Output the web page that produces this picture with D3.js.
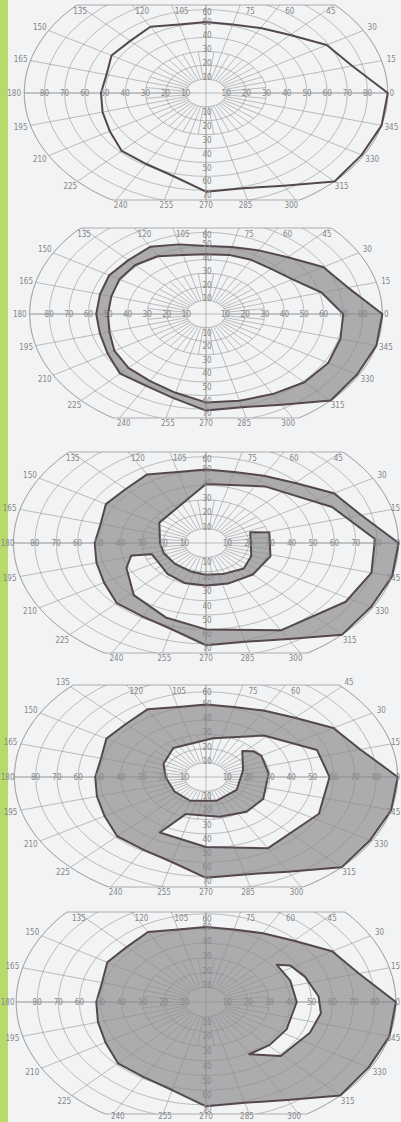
<!DOCTYPE html>
<html>
<head>
<meta charset="utf-8">
<title>Visual field isopters</title>
<script src="https://cdn.jsdelivr.net/npm/d3@7"></script>
<style>
  body { margin: 0; background: #f2f3f5; }
  svg { display: block; }
  text { font-family: "Liberation Sans Narrow", "DejaVu Sans Condensed", sans-serif; font-size: 8px; fill: #868686; }
</style>
</head>
<body>
<svg id="chart" width="401" height="1122"></svg>
<script>
'use strict';

// meridians every 15 degrees, labelled round the rim
const meridians = d3.range(0, 360, 15);
const meridianLabels = meridians.map(String);

// ring labels along the axes
const ringsLeft = [10, 20, 30, 40, 50, 60, 70, 80];
const ringsRight = [10, 20, 30, 40, 50, 60, 70, 80];
const ringsUp = [10, 20, 30, 40, 50, 60];
const ringsDown = [10, 20, 30, 40, 50, 60, 70];

// outer isopter, radius in degrees at each meridian
const outerIsopter = [90, 75, 69, 59, 54, 51, 51, 51, 55, 53, 54, 51,
                      52, 53, 55, 59, 59, 62, 71, 71, 77, 90, 89, 90];
// field 2 reads a little wider on the nasal (left) side
const outerIsopter2 = [90, 75, 69, 59, 54, 51, 50, 53, 57, 56, 57, 56,
                       56, 56, 58, 62, 61, 64, 71, 71, 77, 90, 89, 90];

// field 2: inner edge of the ring band, per meridian
const ringInner = [70, 61, 51, 47, 46, 45, 44, 45, 49, 51, 51, 50,
                   50, 51, 54, 56, 57, 60, 65, 66, 68, 71, 72, 71];

// field 3: white spiral region, [angle, radius]
const spiralHole = [[90, 41], [147, 26], [180, 21.5], [200, 21], [225, 20.5], [250, 21],
  [270, 22], [290, 23], [315, 25], [337, 23], [20, 22], [14, 30.5], [343, 31.5],
  [315, 31], [290, 30], [270, 29.5], [250, 29.5], [230, 28], [212, 26], [197, 26.5],
  [194, 36], [205, 41], [227, 49.5], [250, 55], [270, 60], [300, 70], [328, 77],
  [345, 80], [2, 79], [23, 64], [55, 48]];

// field 4: white spiral region, [angle, radius]
const spiral2Hole = [[47, 40], [83, 27.5], [127, 25.5], [155, 22], [180, 19], [215, 18],
  [246, 18.3], [287, 17.4], [328, 17], [15, 18], [47, 25], [39, 28.7], [30, 30],
  [5, 29.5], [330, 31], [308, 31], [283, 28.7], [250, 27.8], [241, 44.7], [270, 49.3],
  [300, 58], [334, 59], [0, 58], [20, 55.5]];

// field 5: white crescent, [angle, radius]
const crescentHole = [[37, 42], [32, 47], [20, 50], [4, 53.5], [352, 55], [337, 53.5],
  [314, 51], [300, 41], [316, 42], [334, 42.5], [0, 43], [20, 42.5]];

const cx = 206;
const panels = [
  { cy: 93,   top: 5,   bottom: 200,  kx: 2.02, ky: 1.39, outer: outerIsopter,  hole: null },
  { cy: 314,  top: 228, bottom: 418,  kx: 1.96, ky: 1.36, outer: outerIsopter2, hole: meridians.map((a, i) => [a, ringInner[i]]) },
  { cy: 543,  top: 452, bottom: 653,  kx: 2.14, ky: 1.44, outer: outerIsopter,  hole: spiralHole },
  { cy: 777,  top: 685, bottom: 887,  kx: 2.13, ky: 1.42, outer: outerIsopter,  hole: spiral2Hole },
  { cy: 1002, top: 912, bottom: 1114, kx: 2.11, ky: 1.47, outer: outerIsopter,  hole: crescentHole }
];

const svg = d3.select('#chart');

// green strip on the left edge
svg.append('rect')
  .attr('x', 0).attr('y', 0)
  .attr('width', 8).attr('height', 1122)
  .attr('fill', '#b7db6b');

const line = d3.line().curve(d3.curveLinearClosed);

panels.forEach(function (p, n) {
  const g = svg.append('g');
  const x = d3.scaleLinear().domain([-90, 90]).range([cx - 90 * p.kx, cx + 90 * p.kx]);
  const y = d3.scaleLinear().domain([-90, 90]).range([p.cy + 90 * p.ky, p.cy - 90 * p.ky]);
  const proj = function (a, r) {
    const t = a * Math.PI / 180;
    return [x(r * Math.cos(t)), y(r * Math.sin(t))];
  };
  const clampY = v => Math.max(p.top, Math.min(p.bottom, v));

  // chart outline: 90 degree ring cut off by the top and bottom lines
  const edge = d3.range(0, 360, 1).map(function (t) {
    const pt = proj(t, 90);
    return [pt[0], clampY(pt[1])];
  });
  const clipId = 'clip' + n;
  svg.append('clipPath').attr('id', clipId)
    .append('path').attr('d', line(edge));

  // shaded field (outer isopter minus the white hole)
  const outerPts = meridians.map((a, i) => proj(a, p.outer[i]));
  const holePts = p.hole ? p.hole.map(d => proj(d[0], d[1])) : null;
  if (holePts) {
    g.append('path')
      .attr('d', line(outerPts) + line(holePts))
      .attr('fill', '#acabae')
      .attr('fill-rule', 'evenodd');
  }

  // grid
  const grid = g.append('g').attr('clip-path', 'url(#' + clipId + ')')
    .attr('stroke', '#8e8e8e').attr('stroke-width', 0.55).attr('fill', 'none');
  d3.range(10, 100, 10).forEach(function (r) {
    grid.append('ellipse')
      .attr('cx', x(0)).attr('cy', y(0))
      .attr('rx', x(r) - x(0)).attr('ry', y(0) - y(r));
  });
  meridians.forEach(function (a) {
    const p0 = proj(a, 10), p1 = proj(a, 110);
    grid.append('line')
      .attr('x1', p0[0]).attr('y1', p0[1]).attr('x2', p1[0]).attr('y2', p1[1]);
  });
  // finer radials near the centre
  meridians.forEach(function (a) {
    const p0 = proj(a + 7.5, 10), p1 = proj(a + 7.5, 30);
    grid.append('line')
      .attr('x1', p0[0]).attr('y1', p0[1]).attr('x2', p1[0]).attr('y2', p1[1]);
  });
  // axes through the centre
  grid.append('line').attr('x1', x(-95)).attr('x2', x(95)).attr('y1', y(0)).attr('y2', y(0));
  grid.append('line').attr('x1', x(0)).attr('x2', x(0)).attr('y1', y(95)).attr('y2', y(-95));

  g.append('path')
    .attr('d', line(edge))
    .attr('fill', 'none')
    .attr('stroke', '#8e8e8e')
    .attr('stroke-width', 0.7);

  // isopter outlines
  g.append('path')
    .attr('d', line(outerPts))
    .attr('fill', 'none')
    .attr('stroke', '#55484d')
    .attr('stroke-width', 2)
    .attr('stroke-linejoin', 'round');
  if (holePts) {
    g.append('path')
      .attr('d', line(holePts))
      .attr('fill', 'none')
      .attr('stroke', '#55484d')
      .attr('stroke-width', 2)
      .attr('stroke-linejoin', 'round');
  }

  // ring labels on the axes
  const lab = g.append('g').attr('text-anchor', 'middle');
  ringsLeft.forEach(r => lab.append('text').attr('x', x(-r)).attr('y', y(0) + 3).text(r));
  ringsRight.forEach(r => lab.append('text').attr('x', x(r)).attr('y', y(0) + 3).text(r));
  ringsUp.forEach(r => lab.append('text').attr('x', x(0) + 1)
    .attr('y', Math.max(y(r) + 1, p.top + 10)).text(r));
  ringsDown.forEach(r => lab.append('text').attr('x', x(0) + 1)
    .attr('y', Math.min(y(-r) + 8, p.bottom - 2)).text(r));

  // meridian labels round the rim
  meridians.forEach(function (a, i) {
    if (a === 90) return;
    const t = a * Math.PI / 180;
    const s = Math.sin(t);
    let rEnd = 90;
    if (s > 0) rEnd = Math.min(rEnd, (p.cy - p.top) / (s * p.ky));
    if (s < 0) rEnd = Math.min(rEnd, (p.bottom - p.cy) / (-s * p.ky));
    let px, py;
    if (rEnd < 90 && s > 0) {
      const e = proj(a, rEnd);
      px = e[0] + (a < 50 ? -3 : a > 130 ? 2 : 10);
      py = p.top + 9;
    } else if (rEnd < 90 && s < 0) {
      const e = proj(a, rEnd);
      px = e[0] + (cx - e[0]) * 0.05;
      py = Math.min(p.bottom + 8, 1119);
    } else {
      const e = proj(a, a === 0 ? 92 : 95);
      px = e[0];
      py = e[1] + 3;
    }
    // keep the label inside the page
    const half = meridianLabels[i].length * 2.2;
    px = Math.max(half + 1, Math.min(400 - half, px));
    lab.append('text').attr('x', px).attr('y', py).text(meridianLabels[i]);
  });
});
</script>
</body>
</html>
